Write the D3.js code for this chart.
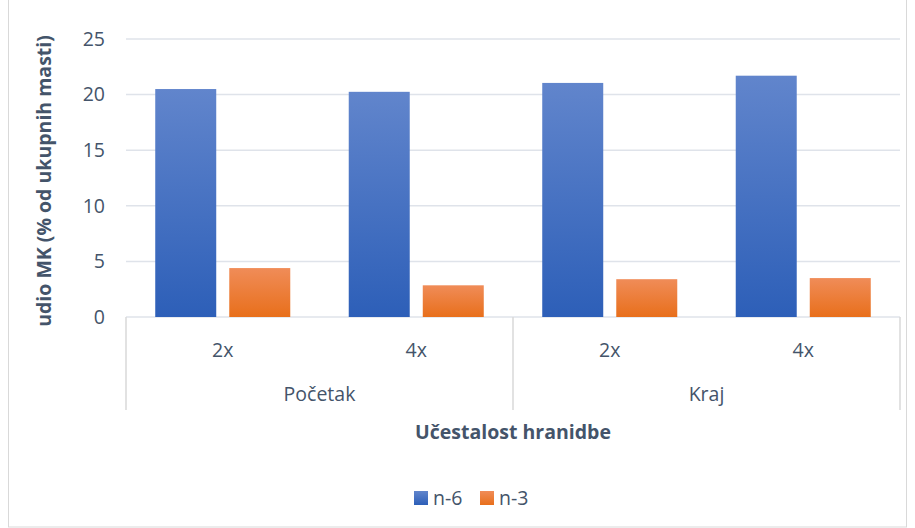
<!DOCTYPE html>
<html lang="hr">
<head>
<meta charset="UTF-8">
<script src="https://cdnjs.cloudflare.com/ajax/libs/d3/7.8.5/d3.min.js"></script>
<style>
  body { margin: 0; background: #fff; }
  text { font-family: "Open Sans", Lato, sans-serif; fill: #44546a; }
</style>
</head>
<body>
<div id="chart"></div>
<script>
/* chart data */
var groups = ["Početak", "Kraj"];
var frequencies = ["2x", "4x"];
var seriesNames = ["n-6", "n-3"];
var n6 = [20.5, 20.25, 21.05, 21.7];
var n3 = [4.4, 2.85, 3.4, 3.5];
var yTicks = [0, 5, 10, 15, 20, 25];

var w = 915, h = 528;
var plotLeft = 126, plotRight = 900, plotTop = 39, plotBottom = 317;
var fs = 19.5;

var svg = d3.select("#chart").append("svg")
  .attr("width", w).attr("height", h);

/* outer frame */
svg.append("rect")
  .attr("x", 8.5).attr("y", -1).attr("width", 898).attr("height", 528)
  .attr("fill", "none").attr("stroke", "#d9d9d9");

var defs = svg.append("defs");
function grad(id, c1, c2) {
  var g = defs.append("linearGradient").attr("id", id)
    .attr("x1", 0).attr("y1", 0).attr("x2", 0).attr("y2", 1);
  g.append("stop").attr("offset", "0%").attr("stop-color", c1);
  g.append("stop").attr("offset", "100%").attr("stop-color", c2);
}
grad("gBlue", "#6185cc", "#2d5fb8");
grad("gOrange", "#f08c58", "#e86f1b");
var fills = ["url(#gBlue)", "url(#gOrange)"];

/* categories: group x frequency */
var cats = [];
groups.forEach(function(g) {
  frequencies.forEach(function(f) { cats.push(g + "|" + f); });
});

var x = d3.scaleBand().domain(cats).range([plotLeft, plotRight]).paddingInner(0).paddingOuter(0);
var xSub = d3.scaleBand().domain(seriesNames).range([0, x.bandwidth()])
  .paddingInner(0.176).paddingOuter(0.395);
var y = d3.scaleLinear().domain([0, 25]).range([plotBottom, plotTop]);

/* gridlines */
svg.append("g").selectAll("line").data(yTicks).join("line")
  .attr("x1", plotLeft).attr("x2", plotRight)
  .attr("y1", function(d) { return y(d); }).attr("y2", function(d) { return y(d); })
  .attr("stroke", "#dfe3ea").attr("stroke-width", 1.5);

/* y axis labels */
svg.append("g").selectAll("text").data(yTicks).join("text")
  .attr("x", 105).attr("y", function(d) { return y(d); })
  .attr("dy", "0.35em").attr("text-anchor", "end")
  .attr("font-size", fs).text(function(d) { return d; });

/* bars */
var rows = cats.map(function(c, i) { return { cat: c, vals: [n6[i], n3[i]] }; });
var grp = svg.append("g").selectAll("g").data(rows).join("g")
  .attr("transform", function(d) { return "translate(" + x(d.cat) + ",0)"; });
grp.selectAll("rect").data(function(d) {
    return d.vals.map(function(v, j) { return { s: seriesNames[j], v: v, j: j }; });
  }).join("rect")
  .attr("x", function(d) { return xSub(d.s); })
  .attr("width", xSub.bandwidth())
  .attr("y", function(d) { return y(d.v); })
  .attr("height", function(d) { return y(0) - y(d.v); })
  .attr("fill", function(d) { return fills[d.j]; });

/* category axis: dividers */
var divX = [plotLeft, x(groups[1] + "|" + frequencies[0]), plotRight];
svg.append("g").selectAll("line").data(divX).join("line")
  .attr("x1", function(d) { return d; }).attr("x2", function(d) { return d; })
  .attr("y1", plotBottom).attr("y2", 410)
  .attr("stroke", "#d9d9d9").attr("stroke-width", 1.5);

/* frequency labels */
svg.append("g").selectAll("text").data(cats).join("text")
  .attr("x", function(d) { return x(d) + x.bandwidth() / 2; })
  .attr("y", 357).attr("text-anchor", "middle").attr("font-size", fs)
  .text(function(d) { return d.split("|")[1]; });

/* group labels */
svg.append("g").selectAll("text").data(groups).join("text")
  .attr("x", function(g) { return x(g + "|" + frequencies[0]) + x.bandwidth(); })
  .attr("y", 401).attr("text-anchor", "middle").attr("font-size", fs)
  .text(function(g) { return g; });

/* axis titles */
svg.append("text")
  .attr("x", (plotLeft + plotRight) / 2).attr("y", 439)
  .attr("text-anchor", "middle").attr("font-size", fs).attr("font-weight", "bold")
  .text("Učestalost hranidbe");

svg.append("text")
  .attr("transform", "translate(51," + ((plotTop + plotBottom) / 2 + 3) + ") rotate(-90)")
  .attr("text-anchor", "middle").attr("font-size", fs).attr("font-weight", "bold")
  .text("udio MK (% od ukupnih masti)");

/* legend */
var legX = [414, 480];
var leg = svg.append("g").selectAll("g").data(seriesNames).join("g")
  .attr("transform", function(d, i) { return "translate(" + legX[i] + ",491)"; });
leg.append("rect").attr("width", 14).attr("height", 14)
  .attr("fill", function(d, i) { return fills[i]; });
leg.append("text").attr("x", 19).attr("y", 7).attr("dy", "0.35em")
  .attr("font-size", fs).text(function(d) { return d; });
</script>
</body>
</html>
